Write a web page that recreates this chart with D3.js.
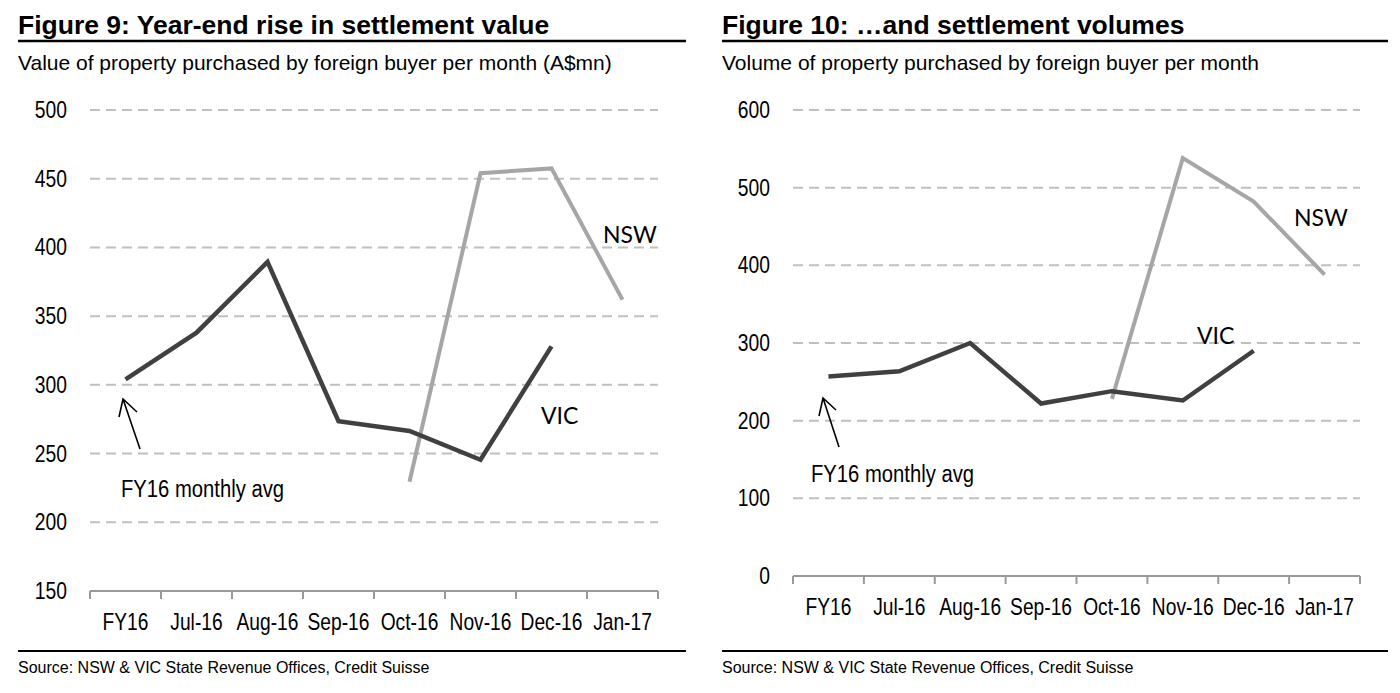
<!DOCTYPE html>
<html>
<head>
<meta charset="utf-8">
<script src="https://cdn.jsdelivr.net/npm/d3@7"></script>
<style>
  body { margin: 0; background: #fff; }
  svg { display: block; }
  .narrow { font-family: "Liberation Sans", Arial, sans-serif; }
  .title { font-family: "Liberation Sans", Arial, sans-serif; font-weight: bold; font-size: 26.5px; }
  .sub { font-family: "Liberation Sans", Arial, sans-serif; font-size: 21px; }
  .source { font-family: "Liberation Sans", Arial, sans-serif; font-size: 16px; }
  .lbl { font-family: Lato, "Open Sans", sans-serif; font-size: 23px; }
</style>
</head>
<body>
<svg id="chart" width="1400" height="693"></svg>
<script>
// data
const categories = ["FY16", "Jul-16", "Aug-16", "Sep-16", "Oct-16", "Nov-16", "Dec-16", "Jan-17"];

const vicValue  = [304, 338, 389.5, 273.5, 266.5, 245.5, 328, null];
const nswValue  = [null, null, null, null, 229.5, 454, 457.5, 362];

const vicVolume = [257, 263.5, 300, 222, 238, 226, 290, null];
const nswVolume = [null, null, null, null, 228, 538, 482, 388];

const valueTicks  = [150, 200, 250, 300, 350, 400, 450, 500];
const volumeTicks = [0, 100, 200, 300, 400, 500, 600];

const panels = [
  {
    title: "Figure 9: Year-end rise in settlement value",
    subtitle: "Value of property purchased by foreign buyer per month (A$mn)",
    left: 18, right: 686,
    x0: 90, x1: 658, yTop: 110, yBottom: 591,
    ticks: valueTicks, vic: vicValue, nsw: nswValue,
    nswLabel: [603, 243], vicLabel: [541, 424],
    arrow: { tip: [123, 399], tail: [140, 449], arms: [[119, 417], [137, 412]] },
    avgLabel: [121, 497]
  },
  {
    title: "Figure 10: \u2026and settlement volumes",
    subtitle: "Volume of property purchased by foreign buyer per month",
    left: 722, right: 1388,
    x0: 793, x1: 1360, yTop: 110, yBottom: 576,
    ticks: volumeTicks, vic: vicVolume, nsw: nswVolume,
    nswLabel: [1294, 226], vicLabel: [1197, 344],
    arrow: { tip: [823, 398], tail: [839, 447], arms: [[819, 416], [836, 410]] },
    avgLabel: [811, 482]
  }
];

// no Arial Narrow here: squeeze the regular face instead
function squeeze(sel, k) {
  sel.each(function() {
    const w = this.getComputedTextLength();
    d3.select(this)
      .attr("textLength", w * k)
      .attr("lengthAdjust", "spacingAndGlyphs");
  });
}

const svg = d3.select("#chart");

panels.forEach(p => {
  const g = svg.append("g");

  // header
  g.append("text").attr("class", "title")
    .attr("x", p.left).attr("y", 34).text(p.title);
  g.append("line")
    .attr("x1", p.left).attr("x2", p.right)
    .attr("y1", 41).attr("y2", 41)
    .attr("stroke", "#000").attr("stroke-width", 2.5);
  g.append("text").attr("class", "sub")
    .attr("x", p.left).attr("y", 69.5).text(p.subtitle);

  // scales
  const x = d3.scaleBand().domain(categories).range([p.x0, p.x1]);
  const y = d3.scaleLinear()
    .domain(d3.extent(p.ticks))
    .range([p.yBottom, p.yTop]);

  // dashed gridlines (skip the baseline)
  g.append("g")
    .selectAll("line")
    .data(p.ticks.slice(1))
    .join("line")
    .attr("x1", p.x0).attr("x2", p.x1)
    .attr("y1", d => y(d)).attr("y2", d => y(d))
    .attr("stroke", "#c0c0c0")
    .attr("stroke-width", 2)
    .attr("stroke-dasharray", "10,6");

  // y axis labels
  const yAxis = d3.axisLeft(y).tickValues(p.ticks).tickSize(0).tickPadding(23);
  g.append("g")
    .attr("transform", `translate(${p.x0},0)`)
    .call(yAxis)
    .call(a => a.select(".domain").remove())
    .selectAll("text")
    .attr("class", "narrow")
    .attr("font-size", 23.5)
    .attr("fill", "#000")
    .call(squeeze, 0.82);

  // x axis: baseline with boundary ticks
  const ax = g.append("g").attr("stroke", "#999").attr("stroke-width", 2);
  ax.append("line")
    .attr("x1", p.x0).attr("x2", p.x1)
    .attr("y1", p.yBottom).attr("y2", p.yBottom);
  ax.selectAll(".bt")
    .data(categories.concat(["end"]))
    .join("line")
    .attr("class", "bt")
    .attr("x1", (d, i) => i < categories.length ? x(d) : p.x1)
    .attr("x2", (d, i) => i < categories.length ? x(d) : p.x1)
    .attr("y1", p.yBottom).attr("y2", p.yBottom + 8);

  g.append("g")
    .selectAll("text")
    .data(categories)
    .join("text")
    .attr("class", "narrow")
    .attr("font-size", 24)
    .attr("text-anchor", "middle")
    .attr("x", d => x(d) + x.bandwidth() / 2)
    .attr("y", p.yBottom + 39)
    .text(d => d)
    .call(squeeze, 0.8);

  // series
  const line = d3.line()
    .defined(d => d != null)
    .x((d, i) => x(categories[i]) + x.bandwidth() / 2)
    .y(d => y(d));

  g.append("path").datum(p.nsw)
    .attr("fill", "none").attr("stroke", "#a6a6a6")
    .attr("stroke-width", 4).attr("stroke-linejoin", "miter")
    .attr("d", line);
  g.append("path").datum(p.vic)
    .attr("fill", "none").attr("stroke", "#404040")
    .attr("stroke-width", 4.5).attr("stroke-linejoin", "miter")
    .attr("d", line);

  // series labels
  g.append("text").attr("class", "lbl")
    .attr("x", p.nswLabel[0]).attr("y", p.nswLabel[1]).text("NSW");
  g.append("text").attr("class", "lbl")
    .attr("x", p.vicLabel[0]).attr("y", p.vicLabel[1]).text("VIC");

  // FY16 average annotation
  const a = p.arrow;
  g.append("path")
    .attr("fill", "none").attr("stroke", "#000").attr("stroke-width", 1.6)
    .attr("d", `M${a.tail}L${a.tip}M${a.arms[0]}L${a.tip}L${a.arms[1]}`);
  g.append("text").attr("class", "narrow")
    .attr("font-size", 23)
    .attr("x", p.avgLabel[0]).attr("y", p.avgLabel[1])
    .text("FY16 monthly avg")
    .call(squeeze, 0.88);

  // footer
  g.append("line")
    .attr("x1", p.left).attr("x2", p.right)
    .attr("y1", 651).attr("y2", 651)
    .attr("stroke", "#000").attr("stroke-width", 2);
  g.append("text").attr("class", "source")
    .attr("x", p.left).attr("y", 673)
    .text("Source: NSW & VIC State Revenue Offices, Credit Suisse");
});
</script>
</body>
</html>
